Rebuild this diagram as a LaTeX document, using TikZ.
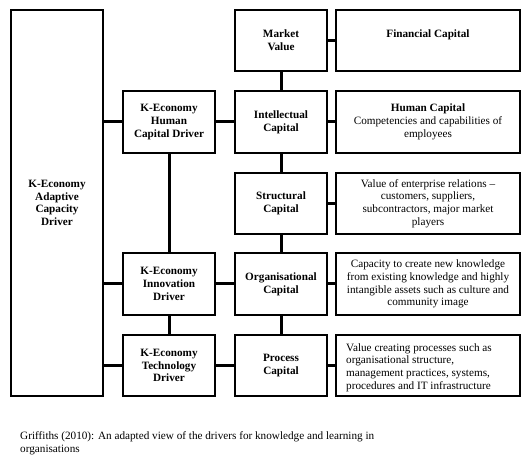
\documentclass[tikz,border=0pt]{standalone}
\usepackage{fontspec}
\setmainfont{Liberation Serif}
\begin{document}
\begin{tikzpicture}[x=1pt,y=-1pt,
  box/.style={draw, line width=1.3pt, inner sep=0pt, align=center,
    font=\fontsize{11.2}{12.7}\selectfont\bfseries},
  narrow/.style={box, minimum width=92pt},
  wide/.style={box, minimum width=184pt, font=\fontsize{11.2}{12.7}\selectfont},
  link/.style={line width=3pt}]
\useasboundingbox[fill=white] (0,0) rectangle (531,468);
% left driver
\node[narrow, minimum height=386pt] (adapt) at (57,203) {K-Economy\\Adaptive\\Capacity\\Driver};
% middle drivers
\node[narrow, minimum height=62pt] (human) at (169,122) {K-Economy\\Human\\Capital Driver};
\node[narrow, minimum height=62pt] (innov) at (169,284) {K-Economy\\Innovation\\Driver};
\node[narrow, minimum height=61pt] (tech) at (169,365.5) {K-Economy\\Technology\\Driver};
% capitals
\node[narrow, minimum height=61pt] (market) at (281,40.5) {Market\\Value};
\node[narrow, minimum height=62pt] (intel) at (281,122) {Intellectual\\Capital};
\node[narrow, minimum height=61pt] (struct) at (281,203.5) {Structural\\Capital};
\node[narrow, minimum height=62pt] (organ) at (281,284) {Organisational\\Capital};
\node[narrow, minimum height=61pt] (proc) at (281,365.5) {Process\\Capital};
% descriptions
\node[wide, minimum height=61pt] (fin) at (428,40.5) {};
\node[font=\fontsize{11.2}{12.7}\selectfont\bfseries, anchor=center] (fint) at (428,35) {Financial Capital};
\node[wide, minimum height=62pt] (hum) at (428,122) {\textbf{Human Capital}\\Competencies and capabilities of\\employees};
\node[wide, minimum height=61pt] (rel) at (428,203.5) {Value of enterprise relations --\\customers, suppliers,\\subcontractors, major market\\players};
\node[wide, minimum height=62pt] (know) at (428,284) {Capacity to create new knowledge\\from existing knowledge and highly\\intangible assets such as culture and\\community image};
\node[wide, minimum height=61pt] (procd) at (428,365.5) {};
\node[font=\fontsize{11.2}{12.7}\selectfont, align=left, anchor=west, inner sep=0pt] (procdt) at (346,367.5) {Value creating processes such as\\organisational structure,\\management practices, systems,\\procedures and IT infrastructure};
% connectors
\draw[link] (human.west) -- (human.west -| adapt.east);
\draw[link] (innov.west) -- (innov.west -| adapt.east);
\draw[link] (tech.west) -- (tech.west -| adapt.east);
\draw[link] (human.east) -- (intel.west);
\draw[link] (innov.east) -- (organ.west);
\draw[link] (tech.east) -- (proc.west);
\draw[link] (human.south) -- (innov.north);
\draw[link] (innov.south) -- (tech.north);
\draw[link] (market.south) -- (intel.north);
\draw[link] (intel.south) -- (struct.north);
\draw[link] (struct.south) -- (organ.north);
\draw[link] (organ.south) -- (proc.north);
\draw[link] (market.east) -- (fin.west);
\draw[link] (intel.east) -- (hum.west);
\draw[link] (struct.east) -- (rel.west);
\draw[link] (organ.east) -- (know.west);
\draw[link] (proc.east) -- (procd.west);
% caption
\node[anchor=north west, align=left, inner sep=0pt, font=\fontsize{11.2}{13}\selectfont] (cap) at (20,431) {Griffiths (2010): An adapted view of the drivers for knowledge and learning in\\organisations};
\end{tikzpicture}
\end{document}
